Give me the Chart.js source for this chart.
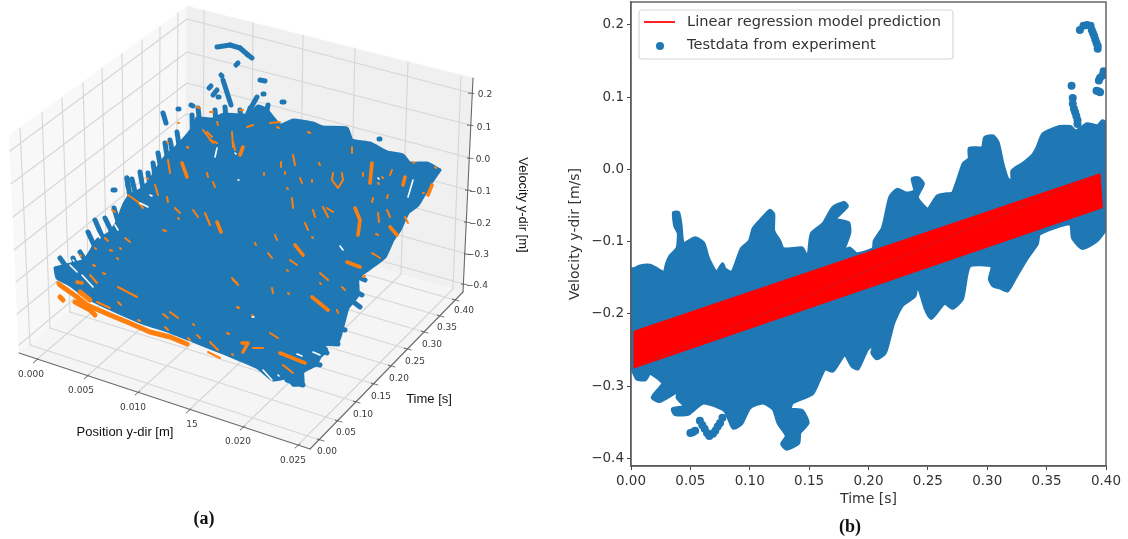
<!DOCTYPE html>
<html>
<head>
<meta charset="utf-8">
<title>Velocity y-dir</title>
<script src="https://cdn.jsdelivr.net/npm/chart.js@4"></script>
<style>
    html, body { margin: 0; padding: 0; background: #fff; }
    canvas { position: absolute; top: 0; filter: blur(0.4px); }
    #chart3d { left: 0; }
    #chart2d { left: 560px; }
    .caption { position: absolute; font: bold 18px "Liberation Serif", serif; color: #111; transform: translate(-50%, -50%); }
</style>
</head>
<body>
<canvas id="chart3d" width="560" height="539"></canvas>
<canvas id="chart2d" width="568" height="539"></canvas>
<div class="caption" style="left:204px;top:518px">(a)</div>
<div class="caption" style="left:850px;top:526px">(b)</div>
<script>
// ---- panel (b): time / velocity ----
const timeTicks2d = [0, 0.05, 0.10, 0.15, 0.20, 0.25, 0.30, 0.35, 0.40];
const velocityTicks2d = [-0.4, -0.3, -0.2, -0.1, 0, 0.1, 0.2];

// outline of the test data cloud as [time, velocity]
const testUpper = [
    [0,-.138],[.0025,-.138],[.0076,-.134],[.016,-.133],[.022,-.138],[.028,-.143],[.030,-.131],[.033,-.120],[.039,-.109],[.040,-.088],
    [.037,-.078],[.036,-.060],[.040,-.060],[.042,-.078],[.044,-.103],[.054,-.095],[.061,-.102],[.065,-.123],[.072,-.143],[.077,-.131],
    [.079,-.138],[.085,-.143],[.093,-.110],[.100,-.099],[.103,-.082],[.111,-.067],[.117,-.057],[.120,-.062],[.120,-.085],[.125,-.099],
    [.128,-.110],[.136,-.110],[.144,-.109],[.149,-.123],[.152,-.089],[.162,-.075],[.170,-.053],[.179,-.046],[.182,-.051],[.172,-.069],
    [.183,-.074],[.184,-.088],[.179,-.113],[.184,-.109],[.190,-.117],[.204,-.110],[.205,-.099],[.212,-.081],[.218,-.039],[.224,-.028],
    [.232,-.033],[.239,-.030],[.237,-.013],[.242,-.012],[.246,-.020],[.241,-.039],[.250,-.055],[.258,-.037],[.266,-.034],[.271,-.033],
    [.280,.008],[.285,.015],[.285,.029],[.296,.030],[.298,.044],[.305,.046],[.309,.037],[.313,.008],[.317,-.013],[.321,-.016],
    [.321,-.002],[.330,.008],[.338,.019],[.342,.030],[.347,.049],[.361,.059],[.370,.059],[.374,.053],[.378,.056],[.384,.063],
    [.393,.060],[.397,.067],[.400,.064]
];
const testLower = [
    [0,-.272],[.001,-.276],[.005,-.290],[.012,-.291],[.016,-.282],[.027,-.296],[.022,-.307],[.018,-.316],[.024,-.321],[.040,-.307],
    [.039,-.316],[.045,-.328],[.035,-.332],[.037,-.339],[.048,-.339],[.061,-.323],[.079,-.334],[.086,-.358],[.093,-.352],[.100,-.330],
    [.111,-.323],[.120,-.332],[.124,-.351],[.131,-.369],[.127,-.380],[.131,-.387],[.141,-.379],[.142,-.365],[.149,-.351],[.144,-.334],
    [.134,-.332],[.136,-.323],[.153,-.310],[.163,-.276],[.170,-.279],[.180,-.256],[.186,-.272],[.191,-.276],[.199,-.249],[.205,-.242],
    [.203,-.254],[.207,-.262],[.214,-.254],[.221,-.213],[.228,-.189],[.239,-.175],[.241,-.157],[.248,-.193],[.253,-.206],[.264,-.185],
    [.271,-.192],[.279,-.179],[.285,-.134],[.304,-.134],[.302,-.152],[.305,-.161],[.311,-.164],[.317,-.168],[.323,-.152],[.333,-.124],
    [.342,-.103],[.344,-.089],[.370,-.075],[.372,-.095],[.380,-.109],[.392,-.099],[.400,-.081]
];
const testChord = [[0, -.2], [.4, -.05]];
// single readings that stand apart from the cloud
const testStray = [
    [.050,-.365],[.052,-.364],[.054,-.362],[.058,-.348],[.060,-.354],[.062,-.359],[.064,-.365],[.066,-.369],[.069,-.366],[.071,-.362],[.073,-.356],[.075,-.351],[.077,-.344],
    [.378,.193],[.381,.199],[.384,.200],[.387,.199],[.388,.193],[.389,.189],[.390,.185],[.391,.180],[.392,.175],[.393,.171],[.393,.167],
    [.394,.123],[.395,.127],[.397,.130],[.398,.136],[.392,.109],[.394,.108],[.395,.107],
    [.371,.116],[.372,.099],[.372,.091],[.373,.084],[.374,.079],[.375,.074],[.376,.068],[.376,.063]
];
const predictionBand = [[.0025,-.224],[.395,-.006],[.397,-.053],[.0025,-.275]];

// ---- panel (a): projected 3d view, [view x, view y] ----
const positionLabels = ["0.000", "0.005", "0.010", "15", "0.020", "0.025"];
const timeLabels = ["0.00", "0.05", "0.10", "0.15", "0.20", "0.25", "0.30", "0.35", "0.40"];
const velocityLabels = ["0.2", "0.1", "0.0", "\u22120.1", "\u22120.2", "\u22120.3", "\u22120.4"];

const paneLeft = [[9,135],[19,353],[185,212],[187,6]];
const paneBackUpper = [[185,212],[187,6],[473,78]];
const paneBackLower = [[185,212],[463,292],[473,78]];
const paneFloorUpper = [[19,353],[185,212],[463,292]];
const paneFloorLower = [[19,353],[310,449],[463,292]];
const axisLines = [[[19,353],[310,449]], [[310,449],[463,292]], [[473,78],[463,292]]];

const timeWallTop = [[20,128],[42,113],[62,98],[83,83],[102,68],[122,54],[142,40],[160,27],[178,13]];
const timeWallBottom = [[30,345],[50,328],[70,312],[89,296],[107,280],[125,264],[143,249],[159,234],[176,220]];
const timeFront = [[320,440],[338,421],[356,402],[374,384],[391,366],[407,349],[424,332],[440,316],[455,300]];
const positionBackTop = [[204,10],[253,23],[303,35],[355,48],[408,62],[461,76]];
const positionBackBottom = [[203,217],[251,231],[300,245],[350,260],[401,274],[453,289]];
const positionFront = [[35,361],[86,377],[137,393],[188,411],[242,428],[297,446]];
const velocityLeft = [[10,151],[11,184],[13,217],[14,250],[16,282],[17,314],[19,345]];
const velocityBack = [[187,19],[187,52],[187,83],[186,114],[186,145],[186,176],[185,206]];
const velocityRight = [[471,93],[470,125],[470,158],[468,190],[467,222],[467,254],[464,284]];

const positionLabelAt = [[31,375],[81,391],[133,408],[192,425],[238,442],[293,461]];
const timeLabelAt = [[327,452],[346,433],[363,415],[381,397],[399,379],[415,362],[432,345],[447,328],[464,311]];
const velocityLabelAt = [[485,95],[484,128],[483,160],[480,192],[480,224],[478,255],[477,286]];

const cloudTop = [
    [55,268],[60,268],[70,270],[80,266],[90,252],[97,240],[108,234],[116,224],[124,204],[130,195],[140,190],[149,182],
    [156,170],[166,156],[177,146],[191,130],[197,118],[212,119],[224,114],[238,115],[250,114],[258,106],[266,109],
    [280,125],[293,120],[313,123],[323,127],[347,128],[352,140],[370,143],[387,152],[403,155],[410,163],[427,163],[440,170]
];
const cloudBottom = [
    [55,268],[57,278],[70,285],[86,297],[110,309],[140,322],[170,332],[193,341],[213,349],[240,360],[258,368],[273,380],
    [287,378],[293,385],[303,384],[303,372],[316,365],[320,357],[327,350],[323,345],[338,342],[343,326],[348,308],[358,295],[358,278],[368,270],
    [385,257],[393,240],[400,230],[408,213],[418,205],[431,183],[440,170]
];
const cloudChord = [[55,268],[440,170]];
const cloudFingers = [
    [[60,258],[70,272]],[[73,258],[80,275]],[[80,252],[90,268]],[[88,232],[100,258]],[[95,220],[108,250]],[[105,218],[118,245]],
    [[114,208],[122,235]],[[127,178],[133,215]],[[132,179],[138,205]],[[140,172],[146,205]],[[148,173],[152,200]],[[153,163],[158,195]],
    [[158,153],[164,185]],[[165,143],[170,175]],[[170,140],[176,170]],[[177,132],[182,165]],[[192,115],[193,160]],[[198,108],[203,150]],
    [[215,110],[218,150]],[[225,107],[228,140]],[[240,110],[242,135]],[[250,108],[247,130]],[[257,97],[248,113]],[[268,105],[262,135]],
    [[303,385],[287,380]],[[320,365],[305,362]],[[338,344],[322,343]],[[327,353],[313,348]],[[345,330],[332,327]],[[360,307],[348,298]],
    [[362,295],[352,290]],[[365,280],[353,275]],
    [[217,47],[230,45]],[[230,45],[240,48]],[[240,48],[248,55]],[[248,55],[252,58]],[[223,80],[231,105]],
    [[217,90],[213,95]],[[260,80],[265,81]],[[163,113],[166,123]],[[127,178],[128,187]],[[113,190],[115,190]],
    [[236,65],[238,63]],[[221,75],[222,76]],[[209,88],[211,86]],[[218,97],[219,97]],[[263,94],[264,94]],
    [[178,109],[179,109]],[[191,105],[193,106]],[[282,102],[284,102]],[[379,139],[380,139]]
];
// orange that shows along the lower left edge of the blue
const orangeEdge = [
    [[60,285],[77,297],[87,305],[110,315],[127,322],[150,332],[170,337],[187,344]],
    [[60,297],[63,300]],[[75,302],[90,310],[95,315]],[[80,292],[90,300]]
];
const orangeThick = [
    [[355,208],[360,220],[358,235]],[[372,163],[370,183]],[[405,177],[403,185]],[[432,185],[428,195]],[[390,227],[397,235]],
    [[221,232],[217,222]],[[347,262],[360,267]],[[242,343],[248,343],[243,352]],[[280,353],[305,363]],[[312,297],[328,310]],
    [[182,163],[187,177]],[[243,147],[240,155]],[[295,245],[303,255]],[[77,282],[82,283]],[[58,283],[64,288]]
];
const orangeThin = [
    [[207,173],[208,177]],[[213,182],[215,187]],[[193,210],[198,217]],[[205,213],[210,225]],[[175,208],[180,213]],[[178,218],[179,219]],
    [[163,230],[166,231]],[[125,238],[130,242]],[[105,238],[108,241]],[[95,248],[96,249]],[[80,255],[81,256]],[[112,210],[115,212]],
    [[128,195],[138,202]],[[147,178],[148,179]],[[155,185],[158,195]],[[167,197],[168,202]],[[138,202],[143,208]],[[168,160],[170,173]],
    [[187,147],[188,148]],[[167,142],[168,143]],[[210,140],[217,143]],[[207,132],[212,137]],[[233,142],[235,150]],[[120,248],[121,249]],
    [[110,250],[112,251]],[[281,162],[281,167]],[[293,155],[295,165]],[[264,173],[264,175]],[[285,172],[285,174]],[[300,178],[302,183]],
    [[312,180],[312,182]],[[319,163],[320,165]],[[287,188],[288,189]],[[292,198],[293,208]],[[313,210],[315,217]],[[323,207],[328,217]],
    [[327,208],[333,212]],[[333,173],[332,180],[338,188],[343,180],[342,173]],[[352,147],[352,153]],[[363,173],[363,176]],[[382,177],[383,178]],
    [[392,170],[390,175]],[[378,183],[379,184]],[[388,195],[387,198]],[[373,198],[372,202]],[[423,193],[424,193]],[[413,162],[414,163]],
    [[435,167],[436,168]],[[378,213],[379,222]],[[387,210],[390,217]],[[405,217],[408,223]],[[376,234],[378,235]],[[305,223],[308,230]],
    [[275,235],[277,240]],[[255,243],[256,245]],[[268,253],[272,258]],[[372,253],[380,258]],[[312,237],[313,238]],
    [[90,275],[97,283]],[[103,273],[105,274]],[[118,287],[137,297]],[[118,302],[121,305]],[[97,302],[110,308]],[[163,314],[168,318]],
    [[170,312],[178,318]],[[138,320],[140,321]],[[165,327],[168,330]],[[188,338],[190,340]],[[197,335],[200,338]],[[210,342],[218,350]],
    [[208,352],[220,358]],[[232,278],[238,285]],[[237,307],[238,308]],[[232,354],[233,355]],[[93,265],[95,266]],[[117,258],[118,259]],
    [[227,333],[229,334]],[[193,324],[194,325]],[[233,280],[237,283]],[[272,288],[273,293]],[[288,293],[289,294]],[[337,310],[338,313]],
    [[320,273],[328,280]],[[320,283],[321,284]],[[342,287],[345,290]],[[290,260],[297,265]],[[287,270],[288,271]],[[270,333],[278,338]],
    [[252,315],[253,316]],[[238,307],[239,308]],[[253,348],[263,348]],[[283,365],[293,373]],[[363,277],[365,276]],[[270,123],[280,122]],
    [[197,107],[200,108]],[[247,127],[253,125]],[[217,122],[218,125]],[[277,127],[279,128]],[[178,123],[179,123]],[[210,112],[213,112]],
    [[240,110],[243,110]],[[203,130],[213,143]],[[232,132],[233,147]],[[308,132],[310,133]]
];
const cloudGaps = [
    [[150,195],[152,196]],[[115,225],[118,230]],[[97,233],[100,238]],[[140,203],[148,207]],[[238,180],[239,180]],[[217,148],[215,157]],
    [[235,153],[236,154]],[[70,265],[77,272]],[[82,275],[93,287]],[[73,260],[74,261]],[[340,246],[343,250]],[[413,180],[408,197]],
    [[378,178],[379,179]],[[263,370],[272,380]],[[278,375],[279,376]],[[297,354],[302,356]],[[313,352],[320,355]],[[252,317],[254,317]]
];

const BLUE = "#1f77b4";
const ORANGE = "#ff7f0e";
const pts = list => list.map(p => ({ x: p[0], y: p[1] }));

function shape(list, color, edge, bend) {
    return { data: pts(list), showLine: true, fill: "shape", tension: bend, borderColor: color, backgroundColor: color,
             borderWidth: edge, borderJoinStyle: "round", pointRadius: 0 };
}
function stroke(list, color, width) {
    return { data: pts(list), showLine: true, fill: false, borderColor: color, borderWidth: width,
             borderCapStyle: "round", borderJoinStyle: "round", pointRadius: 0 };
}

// ---- panel (a) ----
// fill "shape" clips between first and last point, so each polygon runs from its left to its right end
const datasets3d = [
    shape(paneLeft, "#f8f8f8", 0.4, 0),
    shape(paneBackUpper, "#f0f0f0", 0.4, 0),
    shape(paneBackLower, "#f0f0f0", 0.4, 0),
    shape(paneFloorUpper, "#f5f5f5", 0.4, 0),
    shape(paneFloorLower, "#f5f5f5", 0.4, 0)
];

const GRID = "#d6d6d6";
timeWallTop.forEach((p, i) => {
    datasets3d.push(stroke([p, timeWallBottom[i]], GRID, 1.1));
    datasets3d.push(stroke([timeWallBottom[i], timeFront[i]], GRID, 1.1));
});
positionBackTop.forEach((p, i) => {
    datasets3d.push(stroke([p, positionBackBottom[i]], GRID, 1.1));
    datasets3d.push(stroke([positionFront[i], positionBackBottom[i]], GRID, 1.1));
});
velocityLeft.forEach((p, i) => {
    datasets3d.push(stroke([p, velocityBack[i]], GRID, 1.1));
    datasets3d.push(stroke([velocityBack[i], velocityRight[i]], GRID, 1.1));
});
axisLines.forEach(l => datasets3d.push(stroke(l, "#6a6a6a", 1.1)));
positionFront.forEach(p => datasets3d.push(stroke([[p[0] - 2, p[1] + 2], [p[0] + 3, p[1] - 2]], "#555", 0.8)));
timeFront.forEach(p => datasets3d.push(stroke([[p[0] - 3, p[1] - 1], [p[0] + 4, p[1] + 1]], "#555", 0.8)));
velocityRight.forEach(p => datasets3d.push(stroke([[p[0] - 3, p[1]], [p[0] + 3, p[1] + 0.5]], "#555", 0.8)));

datasets3d.push(shape(cloudTop, BLUE, 3, 0.15));
datasets3d.push(shape(cloudBottom, BLUE, 3, 0.15));
datasets3d.push(stroke(cloudChord, BLUE, 3));
cloudFingers.forEach(l => datasets3d.push(stroke(l, BLUE, 5)));
orangeEdge.forEach(l => datasets3d.push(stroke(l, ORANGE, 5)));
orangeThick.forEach(l => datasets3d.push(stroke(l, ORANGE, 3.6)));
orangeThin.forEach(l => datasets3d.push(stroke(l, ORANGE, 2)));
cloudGaps.forEach(l => datasets3d.push(stroke(l, "#ffffff", 1.6)));

const labels3dPlugin = {
    id: "labels3d",
    afterDraw(chart) {
        const { ctx, scales: { x, y } } = chart;
        const put = (txt, at) => ctx.fillText(txt, x.getPixelForValue(at[0]), y.getPixelForValue(at[1]));
        ctx.save();
        ctx.textAlign = "center";
        ctx.textBaseline = "middle";
        ctx.fillStyle = "#3a3a3a";
        ctx.font = '9px "DejaVu Sans"';
        positionLabels.forEach((t, i) => put(t, positionLabelAt[i]));
        timeLabels.forEach((t, i) => put(t, timeLabelAt[i]));
        velocityLabels.forEach((t, i) => put(t, velocityLabelAt[i]));
        ctx.fillStyle = "#111";
        ctx.font = '13px "Liberation Sans"';
        put("Position y-dir [m]", [125, 432]);
        put("Time [s]", [429, 399]);
        ctx.translate(x.getPixelForValue(523), y.getPixelForValue(205));
        ctx.rotate(Math.PI / 2);
        ctx.fillText("Velocity y-dir [m]", 0, 0);
        ctx.restore();
    }
};

new Chart(document.getElementById("chart3d"), {
    type: "scatter",
    data: { datasets: datasets3d.reverse() },
    plugins: [labels3dPlugin],
    options: {
        responsive: false,
        animation: false,
        events: [],
        layout: { autoPadding: false, padding: 0 },
        plugins: { legend: { display: false }, tooltip: { enabled: false } },
        scales: {
            x: { type: "linear", display: false, min: 0, max: 560 },
            y: { type: "linear", display: false, min: 0, max: 539, reverse: true }
        }
    }
});

// ---- panel (b) ----
const datasets2d = [
    shape([testChord[0], ...testUpper, testChord[1]], BLUE, 3.5, 0.2),
    shape([testChord[0], ...testLower, testChord[1]], BLUE, 3.5, 0.2),
    stroke(testChord, BLUE, 4),
    { data: pts(testStray), backgroundColor: BLUE, borderWidth: 0, pointRadius: 4 },
    shape([predictionBand[3], predictionBand[0], predictionBand[1]], "#ff0000", 1, 0),
    shape([predictionBand[3], predictionBand[2], predictionBand[1]], "#ff0000", 1, 0)
];

const framePlugin = {
    id: "frameAndLegend",
    afterDraw(chart) {
        const { ctx, chartArea: a } = chart;
        ctx.save();
        ctx.strokeStyle = "#5c5c5c";
        ctx.lineWidth = 1.4;
        ctx.strokeRect(a.left, a.top, a.right - a.left, a.bottom - a.top);

        // matplotlib style legend inside the axes
        ctx.fillStyle = "#fff";
        ctx.strokeStyle = "#d8d8d8";
        ctx.lineWidth = 1.2;
        ctx.beginPath();
        ctx.roundRect(79, 10, 314, 49, 3);
        ctx.fill();
        ctx.stroke();
        ctx.strokeStyle = "#ff2020";
        ctx.lineWidth = 2;
        ctx.beginPath();
        ctx.moveTo(84, 22);
        ctx.lineTo(115, 22);
        ctx.stroke();
        ctx.fillStyle = BLUE;
        ctx.beginPath();
        ctx.arc(100, 46, 4, 0, Math.PI * 2);
        ctx.fill();
        ctx.fillStyle = "#333";
        ctx.font = '14.6px "DejaVu Sans"';
        ctx.textBaseline = "middle";
        ctx.fillText("Linear regression model prediction", 127, 22);
        ctx.fillText("Testdata from experiment", 127, 45);
        ctx.restore();
    }
};

const tickFont = { family: "DejaVu Sans", size: 13.5 };
new Chart(document.getElementById("chart2d"), {
    type: "scatter",
    data: { datasets: datasets2d.reverse() },
    plugins: [framePlugin],
    options: {
        responsive: false,
        animation: false,
        events: [],
        layout: { autoPadding: false, padding: { left: 7, top: 2, right: 22, bottom: 31 } },
        plugins: { legend: { display: false }, tooltip: { enabled: false } },
        scales: {
            x: {
                type: "linear", min: 0, max: 0.4,
                afterBuildTicks: s => { s.ticks = timeTicks2d.map(v => ({ value: v })); },
                afterFit: s => { s.height = 42; s.paddingLeft = 0; s.paddingRight = 0; },
                ticks: { color: "#333", font: tickFont, padding: 3, maxRotation: 0, autoSkip: false, callback: v => v.toFixed(2) },
                grid: { drawOnChartArea: false, tickLength: 4, tickColor: "#444" },
                border: { color: "#5c5c5c", width: 1.4 },
                title: { display: true, text: "Time [s]", color: "#333", font: { family: "DejaVu Sans", size: 14 }, padding: 0 }
            },
            y: {
                type: "linear", min: -0.4107, max: 0.2318,
                afterBuildTicks: s => { s.ticks = velocityTicks2d.map(v => ({ value: v })); },
                afterFit: s => { s.width = 64; s.paddingTop = 0; s.paddingBottom = 0; },
                ticks: { color: "#333", font: tickFont, padding: 3, autoSkip: false,
                         callback: v => (v < 0 ? "\u2212" : "") + Math.abs(v).toFixed(1) },
                grid: { drawOnChartArea: false, tickLength: 4, tickColor: "#444" },
                border: { color: "#5c5c5c", width: 1.4 },
                title: { display: true, text: "Velocity y-dir [m/s]", color: "#333", font: { family: "DejaVu Sans", size: 14 }, padding: 0 }
            }
        }
    }
});
</script>
</body>
</html>
